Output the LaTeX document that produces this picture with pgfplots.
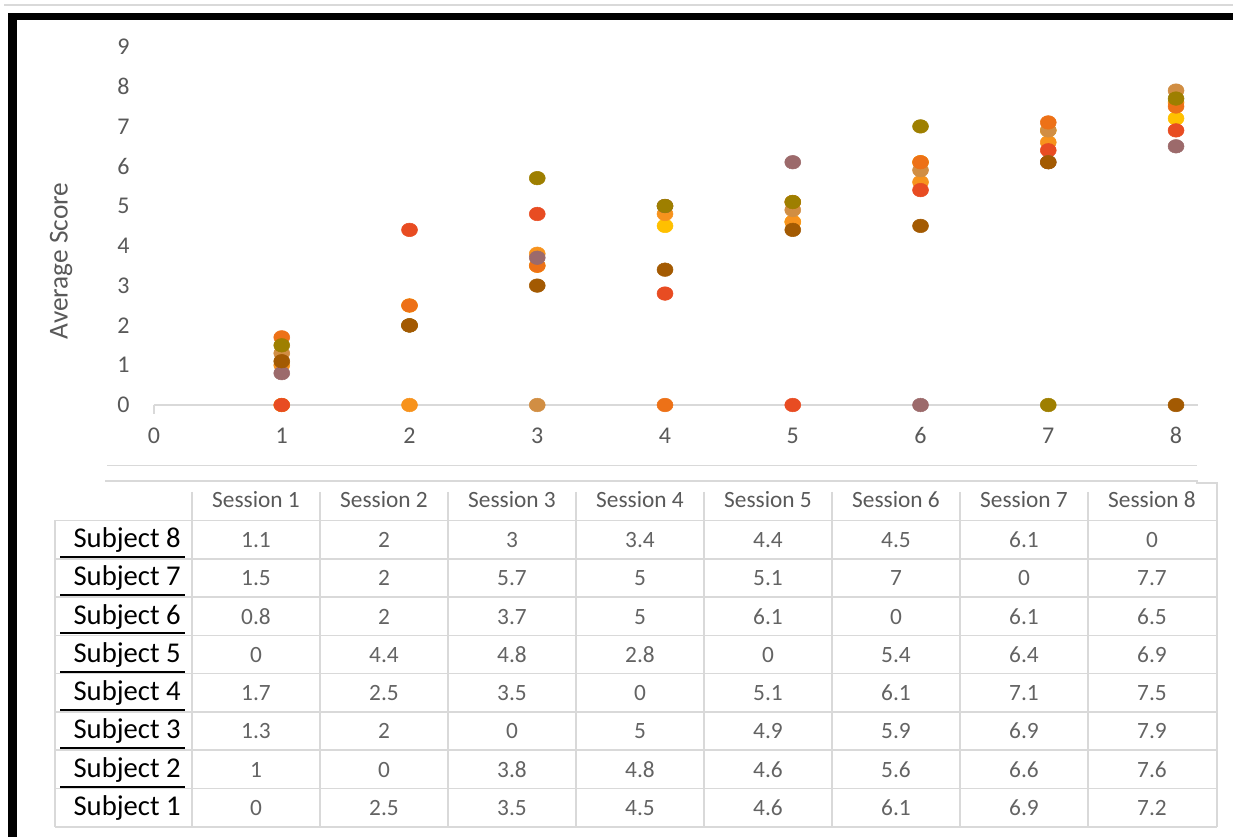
\documentclass[border=0pt]{standalone}
\usepackage{pgfplots}
\pgfplotsset{compat=1.18}
\usepackage{pgfplotstable}
\usepackage{fontspec}
\setmainfont{Carlito}
\definecolor{cS1}{HTML}{FFC000}
\definecolor{cS2}{HTML}{F7931D}
\definecolor{cS3}{HTML}{D18E43}
\definecolor{cS4}{HTML}{ED7117}
\definecolor{cS5}{HTML}{E84C22}
\definecolor{cS6}{HTML}{9C6A6B}
\definecolor{cS7}{HTML}{9E7F00}
\definecolor{cS8}{HTML}{A35A02}
\definecolor{tickc}{HTML}{595959}
\definecolor{valc}{HTML}{636363}
\definecolor{gridc}{HTML}{D9D9D9}

\pgfplotstableread{
session s1 s2 s3 s4 s5 s6 s7 s8
1 0 1 1.3 1.7 0 0.8 1.5 1.1
2 2.5 0 2 2.5 4.4 2 2 2
3 3.5 3.8 0 3.5 4.8 3.7 5.7 3
4 4.5 4.8 5 0 2.8 5 5 3.4
5 4.6 4.6 4.9 5.1 0 6.1 5.1 4.4
6 6.1 5.6 5.9 6.1 5.4 0 7 4.5
7 6.9 6.6 6.9 7.1 6.4 6.1 0 6.1
8 7.2 7.6 7.9 7.5 6.9 6.5 7.7 0
}\datatable

\begin{document}
\begin{tikzpicture}
\path[use as bounding box] (0,0) rectangle (924.75pt,-627.75pt);
\begin{axis}[
  at={(115.5pt,-303.75pt)}, anchor=south west,
  scale only axis, width=782.8pt, height=268.65pt,
  xmin=0, xmax=8.17, ymin=0, ymax=9,
  clip=false,
  axis lines=left,
  y axis line style={draw=none},
  x axis line style={draw=gridc, line width=1.1pt, -},
  tick style={draw=none}, major tick length=0pt,
  xtick={0,...,8}, ytick={0,...,9},
  ticklabel style={font=\fontsize{18}{20}\selectfont, text=tickc},
  /pgf/number format/assume math mode=true,
  xticklabel style={anchor=center, yshift=-23pt},
  yticklabel style={anchor=center, xshift=-23pt},
]
\addplot[only marks, mark=*, color=cS1, mark size=6pt, mark options={yscale=0.85}] table[x=session, y=s1] {\datatable};
\addplot[only marks, mark=*, color=cS2, mark size=6pt, mark options={yscale=0.85}] table[x=session, y=s2] {\datatable};
\addplot[only marks, mark=*, color=cS3, mark size=6pt, mark options={yscale=0.85}] table[x=session, y=s3] {\datatable};
\addplot[only marks, mark=*, color=cS4, mark size=6pt, mark options={yscale=0.85}] table[x=session, y=s4] {\datatable};
\addplot[only marks, mark=*, color=cS5, mark size=6pt, mark options={yscale=0.85}] table[x=session, y=s5] {\datatable};
\addplot[only marks, mark=*, color=cS6, mark size=6pt, mark options={yscale=0.85}] table[x=session, y=s6] {\datatable};
\addplot[only marks, mark=*, color=cS7, mark size=6pt, mark options={yscale=0.85}] table[x=session, y=s7] {\datatable};
\addplot[only marks, mark=*, color=cS8, mark size=6pt, mark options={yscale=0.85}] table[x=session, y=s8] {\datatable};
\end{axis}
\begin{scope}[x=0.75pt, y=-0.75pt]
  % frame
  \draw[gridc, line width=1.5pt] (4,5.5) -- (1233,5.5);
  \fill[black] (8,13) rectangle (1233,20);
  \fill[black] (8,13) rectangle (17,837);
  % small tick at origin
  \draw[gridc, line width=1.1pt] (154,405) -- (154,414);
  % y label
  \node[rotate=90, text=tickc, font=\fontsize{20.5}{22}\selectfont] at (61,261) {Average Score};
  % separator lines
  \draw[gridc, line width=1.2pt] (107,465.5) -- (1197,465.5);
  \draw[gridc, line width=1.2pt] (105,481) -- (1197,481) -- (1197,483) -- (1217,483) -- (1217,520);
  % header vertical dividers
  \foreach \k in {0,...,7} {
    \draw[gridc, line width=1.2pt] (192+128*\k,492) -- (192+128*\k,520.5);
  }
  % body grid
  \foreach \k in {0,...,8} {
    \draw[gridc, line width=1.2pt] (55,520.5+38.3*\k) -- (1217,520.5+38.3*\k);
  }
  \foreach \xx in {55,192,320,448,576,704,832,960,1088,1217} {
    \draw[gridc, line width=1.2pt] (\xx,520.5) -- (\xx,826.9);
  }
  % header labels
  \foreach \k in {1,...,8} {
    \node[anchor=base, text=tickc, font=\fontsize{17.5}{20}\selectfont, inner sep=0pt] at (128*\k+128,508) {Session \k};
  }
  % body
  \foreach \subj/\vals [count=\i] in {
      8/{1.1,2,3,3.4,4.4,4.5,6.1,0},
      7/{1.5,2,5.7,5,5.1,7,0,7.7},
      6/{0.8,2,3.7,5,6.1,0,6.1,6.5},
      5/{0,4.4,4.8,2.8,0,5.4,6.4,6.9},
      4/{1.7,2.5,3.5,0,5.1,6.1,7.1,7.5},
      3/{1.3,2,0,5,4.9,5.9,6.9,7.9},
      2/{1,0,3.8,4.8,4.6,5.6,6.6,7.6},
      1/{0,2.5,3.5,4.5,4.6,6.1,6.9,7.2}} {
    \node[anchor=base east, text=black, font=\fontsize{21.5}{24}\selectfont, inner sep=0pt] at (181,520.5+38.3*\i-38.3+27) {Subject \subj};
    \ifnum\i<8
      \draw[black, line width=1.6pt] (60,520.5+38.3*\i-2) -- (185,520.5+38.3*\i-2);
    \fi
    \foreach \v [count=\j] in \vals {
      \node[anchor=base, text=valc, font=\fontsize{17.5}{20}\selectfont, inner sep=0pt] at (128*\j+128,520.5+38.3*\i-38.3+27) {\v};
    }
  }
\end{scope}
\end{tikzpicture}
\end{document}
